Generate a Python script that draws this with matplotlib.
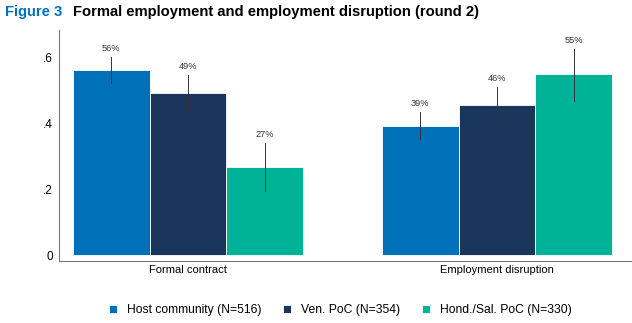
import numpy as np
import matplotlib
matplotlib.use("Agg")
import matplotlib.pyplot as plt

plt.rcParams['font.family'] = ['Liberation Sans', 'DejaVu Sans']

# Shares by outcome and group, with 95% CI bounds
outcomes = ['Formal contract', 'Employment disruption']
groups = ['Host community (N=516)', 'Ven. PoC (N=354)', 'Hond./Sal. PoC (N=330)']
colors = ['#0070B8', '#1A365D', '#00B398']

host = [0.562, 0.394]
ven = [0.492, 0.458]
hond = [0.269, 0.550]

host_ci = [(0.523, 0.603), (0.354, 0.437)]
ven_ci = [(0.440, 0.548), (0.405, 0.513)]
hond_ci = [(0.196, 0.342), (0.470, 0.628)]

values = [host, ven, hond]
cis = [host_ci, ven_ci, hond_ci]

fig = plt.figure(figsize=(6.32, 3.23), dpi=100)
ax = fig.add_axes([0.0934, 0.192, 0.9066, 0.715])

width = 0.249
centers = np.array([0.0, 1.0])
for i, (vals, ci, col) in enumerate(zip(values, cis, colors)):
    xs = centers + (i - 1) * width
    ax.bar(xs, vals, width=width, color=col, edgecolor='white', linewidth=0.6,
           label=groups[i], zorder=2)
    for x, v, (lo, hi) in zip(xs, vals, ci):
        ax.plot([x, x], [lo, hi], color='#333333', linewidth=0.7, zorder=3)
        ax.text(x, hi + 0.012, f"{round(v * 100):.0f}%", ha='center', va='bottom',
                fontsize=6.7, color='#333333')

ax.set_ylim(-0.018, 0.685)
ax.set_xlim(-0.4175, 1.437)
ax.set_yticks([0, 0.2, 0.4, 0.6])
ax.set_yticklabels(['0', '.2', '.4', '.6'], fontsize=8.5)
ax.set_xticks(centers)
ax.set_xticklabels(outcomes, fontsize=8)
ax.tick_params(length=0)
ax.tick_params(axis='x', pad=3)
ax.tick_params(axis='y', pad=4.3)
for s in ['top', 'right']:
    ax.spines[s].set_visible(False)
for s in ['left', 'bottom']:
    ax.spines[s].set_color('#777777')
    ax.spines[s].set_linewidth(0.8)

fig.legend(*ax.get_legend_handles_labels(), loc='center',
           bbox_to_anchor=(0.539, 0.040), ncol=3, frameon=False,
           fontsize=8.7, handlelength=0.66, handleheight=0.66, columnspacing=1.8,
           handletextpad=0.83)

fig.text(0.008, 0.963, 'Figure 3', color='#0070C0', fontsize=10.6, fontweight='bold',
         va='center')
fig.text(0.1155, 0.963, 'Formal employment and employment disruption (round 2)',
         color='black', fontsize=10.6, fontweight='bold', va='center')

fig.savefig('out.png', dpi=100, facecolor='white')
